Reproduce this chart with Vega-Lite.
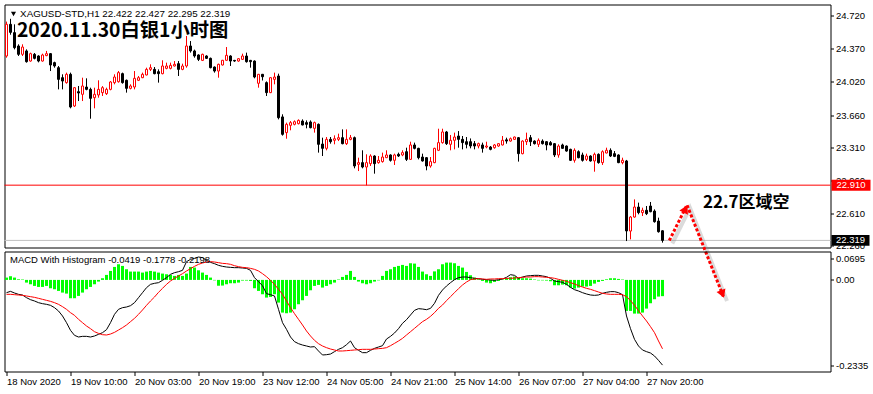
{
"$schema":"https://vega.github.io/schema/vega-lite/v6.json",
"background":"white",
"padding":{"left":3.5,"top":3.5,"right":0,"bottom":0},
"bounds":"flush",
"spacing":4,
"config":{"view":{"stroke":"#000000","strokeWidth":1},"axis":{"labelFont":"Liberation Sans","labelFontSize":9.5,"labelColor":"#000000","tickColor":"#000000","domain":false,"grid":false}},
"datasets":{
"bars":[
{"i":0,"o":24.292,"h":24.66,"l":24.274,"c":24.631,"m":-0.0329,"s":-0.0372,"hist":0.006},
{"i":1,"o":24.631,"h":24.69,"l":24.52,"c":24.545,"m":-0.0295,"s":-0.0372,"hist":0.0095},
{"i":2,"o":24.542,"h":24.631,"l":24.363,"c":24.381,"m":-0.0338,"s":-0.0381,"hist":0.006},
{"i":3,"o":24.399,"h":24.417,"l":24.292,"c":24.31,"m":-0.0372,"s":-0.039,"hist":0.0017},
{"i":4,"o":24.31,"h":24.417,"l":24.292,"c":24.388,"m":-0.039,"s":-0.0398,"hist":0.0012},
{"i":5,"o":24.346,"h":24.363,"l":24.221,"c":24.231,"m":-0.0458,"s":-0.0415,"hist":-0.0069},
{"i":6,"o":24.238,"h":24.328,"l":24.231,"c":24.317,"m":-0.051,"s":-0.0432,"hist":-0.0112},
{"i":7,"o":24.31,"h":24.324,"l":24.256,"c":24.267,"m":-0.0544,"s":-0.045,"hist":-0.0155},
{"i":8,"o":24.292,"h":24.3,"l":24.224,"c":24.238,"m":-0.0587,"s":-0.0475,"hist":-0.0181},
{"i":9,"o":24.238,"h":24.317,"l":24.232,"c":24.303,"m":-0.0613,"s":-0.0501,"hist":-0.0181},
{"i":10,"o":24.296,"h":24.346,"l":24.29,"c":24.317,"m":-0.063,"s":-0.0527,"hist":-0.0155},
{"i":11,"o":24.317,"h":24.324,"l":24.131,"c":24.196,"m":-0.0656,"s":-0.0553,"hist":-0.0215},
{"i":12,"o":24.221,"h":24.231,"l":24.167,"c":24.185,"m":-0.0716,"s":-0.0587,"hist":-0.0241},
{"i":13,"o":24.167,"h":24.185,"l":23.935,"c":24.042,"m":-0.0802,"s":-0.063,"hist":-0.0284},
{"i":14,"o":24.06,"h":24.096,"l":23.935,"c":24.024,"m":-0.0931,"s":-0.069,"hist":-0.0327},
{"i":15,"o":24.007,"h":24.114,"l":23.996,"c":24.096,"m":-0.1103,"s":-0.0759,"hist":-0.0353},
{"i":16,"o":24.096,"h":24.114,"l":23.732,"c":23.746,"m":-0.1301,"s":-0.0845,"hist":-0.0473},
{"i":17,"o":23.757,"h":23.96,"l":23.746,"c":23.953,"m":-0.143,"s":-0.0914,"hist":-0.0473},
{"i":18,"o":23.91,"h":23.971,"l":23.81,"c":23.896,"m":-0.1473,"s":-0.1017,"hist":-0.0413},
{"i":19,"o":23.882,"h":24.06,"l":23.81,"c":23.971,"m":-0.1456,"s":-0.1103,"hist":-0.0327},
{"i":20,"o":23.96,"h":24.053,"l":23.925,"c":23.935,"m":-0.1456,"s":-0.1189,"hist":-0.0241},
{"i":21,"o":23.935,"h":23.953,"l":23.621,"c":23.839,"m":-0.1473,"s":-0.1258,"hist":-0.0181},
{"i":22,"o":23.846,"h":23.953,"l":23.732,"c":23.882,"m":-0.1447,"s":-0.1336,"hist":-0.0112},
{"i":23,"o":23.875,"h":24.032,"l":23.846,"c":23.935,"m":-0.1404,"s":-0.1379,"hist":-0.0043},
{"i":24,"o":23.9,"h":23.97,"l":23.864,"c":23.953,"m":-0.1361,"s":-0.1413,"hist":0.0043},
{"i":25,"o":23.889,"h":23.953,"l":23.875,"c":23.935,"m":-0.1284,"s":-0.1421,"hist":0.0129},
{"i":26,"o":23.935,"h":24.024,"l":23.925,"c":24.014,"m":-0.1103,"s":-0.1396,"hist":0.0232},
{"i":27,"o":24.007,"h":24.096,"l":23.989,"c":24.067,"m":-0.0888,"s":-0.1353,"hist":0.0335},
{"i":28,"o":24.017,"h":24.131,"l":24.007,"c":24.114,"m":-0.0759,"s":-0.1293,"hist":0.0404},
{"i":29,"o":24.103,"h":24.114,"l":23.996,"c":24.007,"m":-0.0716,"s":-0.1232,"hist":0.0361},
{"i":30,"o":24.032,"h":24.04,"l":23.9,"c":23.946,"m":-0.0699,"s":-0.1163,"hist":0.0275},
{"i":31,"o":23.946,"h":23.989,"l":23.935,"c":23.971,"m":-0.0665,"s":-0.1077,"hist":0.0215},
{"i":32,"o":23.96,"h":24.131,"l":23.935,"c":24.053,"m":-0.0587,"s":-0.0991,"hist":0.0215},
{"i":33,"o":24.032,"h":24.078,"l":24.024,"c":24.06,"m":-0.0458,"s":-0.0888,"hist":0.0215},
{"i":34,"o":24.06,"h":24.114,"l":24.055,"c":24.096,"m":-0.0329,"s":-0.0776,"hist":0.0189},
{"i":35,"o":24.089,"h":24.167,"l":24.085,"c":24.149,"m":-0.02,"s":-0.0656,"hist":0.0215},
{"i":36,"o":24.149,"h":24.203,"l":24.131,"c":24.167,"m":-0.0114,"s":-0.0544,"hist":0.0232},
{"i":37,"o":24.149,"h":24.174,"l":24.096,"c":24.103,"m":-0.0088,"s":-0.0441,"hist":0.0215},
{"i":38,"o":24.124,"h":24.149,"l":24.007,"c":24.103,"m":-0.0071,"s":-0.0321,"hist":0.0189},
{"i":39,"o":24.103,"h":24.246,"l":24.096,"c":24.185,"m":-0.0011,"s":-0.0218,"hist":0.0163},
{"i":40,"o":24.16,"h":24.221,"l":24.15,"c":24.185,"m":0.0058,"s":-0.0114,"hist":0.0146},
{"i":41,"o":24.16,"h":24.221,"l":24.149,"c":24.192,"m":0.0144,"s":-0.0028,"hist":0.0129},
{"i":42,"o":24.185,"h":24.238,"l":24.18,"c":24.203,"m":0.0187,"s":0.0041,"hist":0.0103},
{"i":43,"o":24.21,"h":24.238,"l":24.078,"c":24.149,"m":0.0212,"s":0.0101,"hist":0.0129},
{"i":44,"o":24.149,"h":24.21,"l":24.14,"c":24.185,"m":0.0247,"s":0.0161,"hist":0.0103},
{"i":45,"o":24.185,"h":24.506,"l":24.167,"c":24.399,"m":0.047,"s":0.023,"hist":0.0163},
{"i":46,"o":24.399,"h":24.452,"l":24.328,"c":24.346,"m":0.0531,"s":0.029,"hist":0.0335},
{"i":47,"o":24.346,"h":24.36,"l":24.274,"c":24.292,"m":0.0556,"s":0.035,"hist":0.0318},
{"i":48,"o":24.303,"h":24.31,"l":24.238,"c":24.256,"m":0.0591,"s":0.0402,"hist":0.0249},
{"i":49,"o":24.245,"h":24.317,"l":24.238,"c":24.31,"m":0.0574,"s":0.0436,"hist":0.0189},
{"i":50,"o":24.292,"h":24.3,"l":24.26,"c":24.267,"m":0.0505,"s":0.0462,"hist":0.0129},
{"i":51,"o":24.267,"h":24.275,"l":24.16,"c":24.167,"m":0.0453,"s":0.0471,"hist":0.006},
{"i":52,"o":24.174,"h":24.18,"l":24.114,"c":24.131,"m":0.0419,"s":0.0462,"hist":-0.0012},
{"i":53,"o":24.131,"h":24.21,"l":24.06,"c":24.203,"m":0.0376,"s":0.0445,"hist":-0.015},
{"i":54,"o":24.196,"h":24.25,"l":24.19,"c":24.246,"m":0.035,"s":0.0427,"hist":-0.0146},
{"i":55,"o":24.246,"h":24.388,"l":24.24,"c":24.299,"m":0.0333,"s":0.0419,"hist":-0.0112},
{"i":56,"o":24.292,"h":24.3,"l":24.185,"c":24.238,"m":0.0324,"s":0.0402,"hist":-0.0086},
{"i":57,"o":24.245,"h":24.25,"l":24.23,"c":24.238,"m":0.0316,"s":0.0367,"hist":-0.0086},
{"i":58,"o":24.238,"h":24.27,"l":24.23,"c":24.263,"m":0.0316,"s":0.0342,"hist":-0.0069},
{"i":59,"o":24.256,"h":24.317,"l":24.25,"c":24.292,"m":0.0307,"s":0.0324,"hist":-0.0017},
{"i":60,"o":24.292,"h":24.328,"l":24.221,"c":24.231,"m":0.0298,"s":0.0316,"hist":-0.0017},
{"i":61,"o":24.245,"h":24.25,"l":24.167,"c":24.231,"m":0.0247,"s":0.0298,"hist":-0.0026},
{"i":62,"o":24.238,"h":24.245,"l":24.053,"c":24.067,"m":0.0058,"s":0.0273,"hist":-0.0215},
{"i":63,"o":24.0,"h":24.1,"l":23.953,"c":24.096,"m":-0.0046,"s":0.023,"hist":-0.0284},
{"i":64,"o":24.096,"h":24.1,"l":24.03,"c":24.07,"m":-0.0149,"s":0.0161,"hist":-0.037},
{"i":65,"o":24.007,"h":24.02,"l":23.864,"c":23.9,"m":-0.0355,"s":0.0083,"hist":-0.0456},
{"i":66,"o":23.9,"h":24.065,"l":23.895,"c":24.06,"m":-0.0381,"s":-0.0011,"hist":-0.0439},
{"i":67,"o":24.042,"h":24.114,"l":23.989,"c":24.067,"m":-0.0415,"s":-0.0114,"hist":-0.037},
{"i":68,"o":24.078,"h":24.103,"l":23.614,"c":23.632,"m":-0.0759,"s":-0.0243,"hist":-0.0585},
{"i":69,"o":23.64,"h":23.668,"l":23.44,"c":23.454,"m":-0.1103,"s":-0.0372,"hist":-0.0843},
{"i":70,"o":23.472,"h":23.579,"l":23.407,"c":23.561,"m":-0.1275,"s":-0.0544,"hist":-0.086},
{"i":71,"o":23.55,"h":23.596,"l":23.497,"c":23.579,"m":-0.1473,"s":-0.0716,"hist":-0.0843},
{"i":72,"o":23.561,"h":23.603,"l":23.55,"c":23.589,"m":-0.1593,"s":-0.0871,"hist":-0.0757},
{"i":73,"o":23.568,"h":23.614,"l":23.56,"c":23.603,"m":-0.1645,"s":-0.1017,"hist":-0.0628},
{"i":74,"o":23.596,"h":23.614,"l":23.55,"c":23.554,"m":-0.168,"s":-0.1163,"hist":-0.0525},
{"i":75,"o":23.579,"h":23.603,"l":23.518,"c":23.561,"m":-0.1705,"s":-0.1318,"hist":-0.0413},
{"i":76,"o":23.586,"h":23.603,"l":23.518,"c":23.525,"m":-0.1731,"s":-0.1447,"hist":-0.0267},
{"i":77,"o":23.518,"h":23.59,"l":23.472,"c":23.579,"m":-0.1722,"s":-0.1559,"hist":-0.0155},
{"i":78,"o":23.561,"h":23.57,"l":23.258,"c":23.347,"m":-0.1834,"s":-0.1645,"hist":-0.0129},
{"i":79,"o":23.35,"h":23.418,"l":23.222,"c":23.304,"m":-0.1937,"s":-0.1705,"hist":-0.0198},
{"i":80,"o":23.304,"h":23.425,"l":23.283,"c":23.4,"m":-0.1929,"s":-0.1748,"hist":-0.0155},
{"i":81,"o":23.4,"h":23.425,"l":23.354,"c":23.375,"m":-0.1912,"s":-0.1783,"hist":-0.0112},
{"i":82,"o":23.39,"h":23.443,"l":23.347,"c":23.407,"m":-0.1851,"s":-0.1808,"hist":-0.0069},
{"i":83,"o":23.4,"h":23.461,"l":23.382,"c":23.418,"m":-0.1791,"s":-0.1834,"hist":0.0012},
{"i":84,"o":23.418,"h":23.507,"l":23.347,"c":23.354,"m":-0.1748,"s":-0.1834,"hist":0.0077},
{"i":85,"o":23.354,"h":23.507,"l":23.34,"c":23.4,"m":-0.1671,"s":-0.1826,"hist":0.0129},
{"i":86,"o":23.4,"h":23.447,"l":23.39,"c":23.418,"m":-0.1576,"s":-0.1817,"hist":0.0232},
{"i":87,"o":23.418,"h":23.43,"l":23.09,"c":23.115,"m":-0.1748,"s":-0.1808,"hist":0.0077},
{"i":88,"o":23.133,"h":23.204,"l":23.061,"c":23.151,"m":-0.1817,"s":-0.18,"hist":-0.0043},
{"i":89,"o":23.151,"h":23.283,"l":23.09,"c":23.104,"m":-0.1877,"s":-0.1791,"hist":-0.0086},
{"i":90,"o":23.104,"h":23.24,"l":22.908,"c":23.151,"m":-0.1877,"s":-0.1791,"hist":-0.0112},
{"i":91,"o":23.14,"h":23.24,"l":23.115,"c":23.222,"m":-0.1817,"s":-0.1791,"hist":-0.0086},
{"i":92,"o":23.222,"h":23.23,"l":23.033,"c":23.14,"m":-0.1766,"s":-0.1783,"hist":-0.0043},
{"i":93,"o":23.151,"h":23.222,"l":23.14,"c":23.176,"m":-0.1731,"s":-0.1774,"hist":-0.0012},
{"i":94,"o":23.162,"h":23.258,"l":23.151,"c":23.211,"m":-0.1697,"s":-0.1766,"hist":0.0103},
{"i":95,"o":23.204,"h":23.283,"l":23.2,"c":23.233,"m":-0.1525,"s":-0.1748,"hist":0.0232},
{"i":96,"o":23.233,"h":23.24,"l":23.162,"c":23.176,"m":-0.1456,"s":-0.1697,"hist":0.0275},
{"i":97,"o":23.176,"h":23.247,"l":23.126,"c":23.233,"m":-0.137,"s":-0.1637,"hist":0.0335},
{"i":98,"o":23.24,"h":23.258,"l":23.211,"c":23.222,"m":-0.1258,"s":-0.1576,"hist":0.0361},
{"i":99,"o":23.233,"h":23.283,"l":23.22,"c":23.258,"m":-0.112,"s":-0.1508,"hist":0.0387},
{"i":100,"o":23.268,"h":23.311,"l":23.169,"c":23.186,"m":-0.1026,"s":-0.1421,"hist":0.0361},
{"i":101,"o":23.186,"h":23.375,"l":23.18,"c":23.34,"m":-0.0905,"s":-0.1336,"hist":0.043},
{"i":102,"o":23.34,"h":23.365,"l":23.293,"c":23.304,"m":-0.0785,"s":-0.125,"hist":0.0421},
{"i":103,"o":23.304,"h":23.31,"l":23.186,"c":23.204,"m":-0.0742,"s":-0.1163,"hist":0.0335},
{"i":104,"o":23.211,"h":23.247,"l":23.162,"c":23.169,"m":-0.0751,"s":-0.1077,"hist":0.0215},
{"i":105,"o":23.204,"h":23.21,"l":23.069,"c":23.115,"m":-0.0768,"s":-0.1017,"hist":0.0146},
{"i":106,"o":23.115,"h":23.211,"l":23.097,"c":23.162,"m":-0.0734,"s":-0.094,"hist":0.0103},
{"i":107,"o":23.151,"h":23.31,"l":23.145,"c":23.304,"m":-0.0604,"s":-0.0845,"hist":0.022},
{"i":108,"o":23.283,"h":23.514,"l":23.275,"c":23.365,"m":-0.0398,"s":-0.0733,"hist":0.0275},
{"i":109,"o":23.365,"h":23.514,"l":23.354,"c":23.479,"m":-0.026,"s":-0.0647,"hist":0.0404},
{"i":110,"o":23.479,"h":23.49,"l":23.34,"c":23.354,"m":-0.0157,"s":-0.0535,"hist":0.0447},
{"i":111,"o":23.347,"h":23.447,"l":23.283,"c":23.39,"m":-0.0071,"s":-0.0432,"hist":0.0447},
{"i":112,"o":23.39,"h":23.472,"l":23.293,"c":23.425,"m":0.0006,"s":-0.0329,"hist":0.043},
{"i":113,"o":23.436,"h":23.489,"l":23.311,"c":23.4,"m":0.0058,"s":-0.0226,"hist":0.0361},
{"i":114,"o":23.4,"h":23.436,"l":23.293,"c":23.365,"m":0.0075,"s":-0.0131,"hist":0.0318},
{"i":115,"o":23.375,"h":23.425,"l":23.304,"c":23.347,"m":0.0075,"s":-0.0054,"hist":0.0206},
{"i":116,"o":23.375,"h":23.41,"l":23.304,"c":23.329,"m":0.0058,"s":0.0006,"hist":0.012},
{"i":117,"o":23.354,"h":23.382,"l":23.293,"c":23.329,"m":0.0041,"s":0.0024,"hist":0.006},
{"i":118,"o":23.329,"h":23.365,"l":23.304,"c":23.354,"m":0.0032,"s":0.0032,"hist":0.0017},
{"i":119,"o":23.34,"h":23.365,"l":23.258,"c":23.304,"m":0.0015,"s":0.0024,"hist":-0.0026},
{"i":120,"o":23.318,"h":23.375,"l":23.304,"c":23.329,"m":0.0006,"s":0.0015,"hist":-0.0069},
{"i":121,"o":23.318,"h":23.329,"l":23.283,"c":23.293,"m":-0.0002,"s":0.0024,"hist":-0.0086},
{"i":122,"o":23.311,"h":23.35,"l":23.3,"c":23.34,"m":-0.0011,"s":0.0024,"hist":-0.0052},
{"i":123,"o":23.329,"h":23.36,"l":23.32,"c":23.354,"m":0.0006,"s":0.0032,"hist":-0.0026},
{"i":124,"o":23.34,"h":23.436,"l":23.335,"c":23.39,"m":0.0024,"s":0.0032,"hist":0.0012},
{"i":125,"o":23.395,"h":23.418,"l":23.354,"c":23.382,"m":0.0067,"s":0.0041,"hist":0.0043},
{"i":126,"o":23.382,"h":23.42,"l":23.375,"c":23.407,"m":0.0135,"s":0.0041,"hist":0.0069},
{"i":127,"o":23.4,"h":23.43,"l":23.395,"c":23.425,"m":0.0118,"s":0.0049,"hist":0.0086},
{"i":128,"o":23.418,"h":23.425,"l":23.162,"c":23.247,"m":0.0041,"s":0.0058,"hist":0.0052},
{"i":129,"o":23.247,"h":23.39,"l":23.24,"c":23.382,"m":0.0075,"s":0.0067,"hist":0.0043},
{"i":130,"o":23.375,"h":23.472,"l":23.34,"c":23.4,"m":0.0101,"s":0.0075,"hist":0.0043},
{"i":131,"o":23.418,"h":23.447,"l":23.329,"c":23.375,"m":0.011,"s":0.0075,"hist":0.0034},
{"i":132,"o":23.382,"h":23.39,"l":23.345,"c":23.354,"m":0.0118,"s":0.0084,"hist":0.0012},
{"i":133,"o":23.347,"h":23.41,"l":23.318,"c":23.39,"m":0.0118,"s":0.0084,"hist":-0.0012},
{"i":134,"o":23.382,"h":23.4,"l":23.345,"c":23.354,"m":0.0101,"s":0.0075,"hist":-0.0012},
{"i":135,"o":23.375,"h":23.38,"l":23.283,"c":23.34,"m":0.0084,"s":0.0067,"hist":-0.0017},
{"i":136,"o":23.365,"h":23.382,"l":23.335,"c":23.34,"m":0.0041,"s":0.0058,"hist":-0.0034},
{"i":137,"o":23.354,"h":23.36,"l":23.211,"c":23.233,"m":-0.0028,"s":0.0041,"hist":-0.0138},
{"i":138,"o":23.233,"h":23.347,"l":23.204,"c":23.329,"m":-0.0045,"s":0.0015,"hist":-0.0138},
{"i":139,"o":23.34,"h":23.354,"l":23.3,"c":23.304,"m":-0.0062,"s":-0.0011,"hist":-0.012},
{"i":140,"o":23.329,"h":23.335,"l":23.268,"c":23.275,"m":-0.0114,"s":-0.0037,"hist":-0.0138},
{"i":141,"o":23.293,"h":23.3,"l":23.169,"c":23.176,"m":-0.0191,"s":-0.0071,"hist":-0.0198},
{"i":142,"o":23.176,"h":23.304,"l":23.151,"c":23.283,"m":-0.0252,"s":-0.0105,"hist":-0.0224},
{"i":143,"o":23.268,"h":23.283,"l":23.197,"c":23.204,"m":-0.0286,"s":-0.0148,"hist":-0.0198},
{"i":144,"o":23.233,"h":23.258,"l":23.162,"c":23.176,"m":-0.0329,"s":-0.0183,"hist":-0.0172},
{"i":145,"o":23.186,"h":23.247,"l":23.169,"c":23.222,"m":-0.0363,"s":-0.0217,"hist":-0.0172},
{"i":146,"o":23.222,"h":23.23,"l":23.162,"c":23.169,"m":-0.0389,"s":-0.0243,"hist":-0.0155},
{"i":147,"o":23.169,"h":23.258,"l":23.054,"c":23.24,"m":-0.0398,"s":-0.0277,"hist":-0.0095},
{"i":148,"o":23.24,"h":23.25,"l":23.14,"c":23.151,"m":-0.0389,"s":-0.0312,"hist":-0.0052},
{"i":149,"o":23.151,"h":23.283,"l":23.126,"c":23.268,"m":-0.0346,"s":-0.0346,"hist":-0.0026},
{"i":150,"o":23.254,"h":23.311,"l":23.25,"c":23.283,"m":-0.032,"s":-0.0363,"hist":0.0017},
{"i":151,"o":23.283,"h":23.304,"l":23.211,"c":23.222,"m":-0.0303,"s":-0.0372,"hist":0.0043},
{"i":152,"o":23.247,"h":23.275,"l":23.21,"c":23.218,"m":-0.0303,"s":-0.0372,"hist":0.0043},
{"i":153,"o":23.233,"h":23.24,"l":23.145,"c":23.151,"m":-0.0329,"s":-0.0372,"hist":0.0026},
{"i":154,"o":23.151,"h":23.204,"l":23.133,"c":23.176,"m":-0.0381,"s":-0.0381,"hist":0.0012},
{"i":155,"o":23.169,"h":23.18,"l":22.312,"c":22.42,"m":-0.0931,"s":-0.0432,"hist":-0.08},
{"i":156,"o":22.419,"h":22.58,"l":22.33,"c":22.569,"m":-0.1258,"s":-0.0535,"hist":-0.08},
{"i":157,"o":22.569,"h":22.758,"l":22.562,"c":22.676,"m":-0.1533,"s":-0.0655,"hist":-0.0869},
{"i":158,"o":22.676,"h":22.723,"l":22.598,"c":22.616,"m":-0.1705,"s":-0.0793,"hist":-0.0869},
{"i":159,"o":22.616,"h":22.669,"l":22.58,"c":22.641,"m":-0.1808,"s":-0.0931,"hist":-0.0843},
{"i":160,"o":22.641,"h":22.687,"l":22.59,"c":22.605,"m":-0.1851,"s":-0.106,"hist":-0.074},
{"i":161,"o":22.687,"h":22.73,"l":22.62,"c":22.626,"m":-0.1886,"s":-0.1206,"hist":-0.0602},
{"i":162,"o":22.633,"h":22.651,"l":22.509,"c":22.519,"m":-0.1963,"s":-0.1361,"hist":-0.0499},
{"i":163,"o":22.526,"h":22.562,"l":22.402,"c":22.412,"m":-0.2075,"s":-0.1576,"hist":-0.043},
{"i":164,"o":22.422,"h":22.427,"l":22.295,"c":22.319,"m":-0.2198,"s":-0.1778,"hist":-0.0419}
],
"arrow":[{"i":165.7,"p":22.318},{"i":170.125,"p":22.698},{"i":179.375,"p":21.7025}]
},
"vconcat":[
{
"width":826,"height":243,
"resolve":{"axis":{"x":"independent","y":"independent"}},
"layer":[
{"data":{"values":[{"p":22.319}]},"mark":{"type":"rule","color":"#c0c0c0","strokeWidth":1},
 "encoding":{"y":{"field":"p","type":"quantitative","scale":{"domain":[22.243,24.843],"nice":false,"zero":false},"axis":null,"title":null}}},
{"data":{"values":[{"p":22.91}]},"mark":{"type":"rule","color":"#ff0000","strokeWidth":1},
 "encoding":{"y":{"field":"p","type":"quantitative","scale":{"domain":[22.243,24.843],"nice":false,"zero":false},"axis":null,"title":null}}},
{"data":{"name":"bars"},"mark":{"type":"rule","strokeWidth":1},
 "encoding":{
  "x":{"field":"i","type":"quantitative","scale":{"domain":[-0.5,206],"nice":false,"zero":false,"padding":0},"axis":null,"title":null},
  "y":{"field":"l","type":"quantitative","scale":{"domain":[22.243,24.843],"nice":false,"zero":false},"title":null,
       "axis":{"orient":"right","values":[24.72,24.37,24.02,23.66,23.31,22.96,22.61,22.26],"format":".3f","tickSize":3,"labelPadding":2,"title":null,"labelBaseline":"middle","labelFlush":false,"labelOverlap":false,"labelBound":false}},
  "y2":{"field":"h"},
  "color":{"condition":{"test":"datum.c >= datum.o","value":"#ff0000"},"value":"#000000"}}},
{"data":{"name":"bars"},"mark":{"type":"bar","width":2,"strokeWidth":1},
 "encoding":{
  "x":{"field":"i","type":"quantitative","scale":{"domain":[-0.5,206],"nice":false,"zero":false,"padding":0},"axis":null,"title":null},
  "y":{"field":"o","type":"quantitative","scale":{"domain":[22.243,24.843],"nice":false,"zero":false},"axis":null,"title":null},
  "y2":{"field":"c"},
  "fill":{"condition":{"test":"datum.c >= datum.o","value":"#ffffff"},"value":"#000000"},
  "stroke":{"condition":{"test":"datum.c >= datum.o","value":"#ff0000"},"value":"#000000"}}},
{"data":{"values":[{"i":2.6,"p":24.4953,"t":"2020.11.30白银1小时图"}]},
 "mark":{"type":"text","font":"Noto Sans CJK SC","fontWeight":"bold","fontSize":19.3,"color":"#000000","align":"left","baseline":"alphabetic"},
 "encoding":{
  "x":{"field":"i","type":"quantitative","scale":{"domain":[-0.5,206],"nice":false,"zero":false,"padding":0},"axis":null,"title":null},
  "y":{"field":"p","type":"quantitative","scale":{"domain":[22.243,24.843],"nice":false,"zero":false},"axis":null,"title":null},
  "text":{"field":"t"}}},
{"data":{"values":[{"i":3.4,"p":24.745,"t":"XAGUSD-STD,H1  22.422 22.427 22.295 22.319"}]},
 "mark":{"type":"text","font":"Liberation Sans","fontSize":9.8,"color":"#000000","align":"left","baseline":"middle"},
 "encoding":{
  "x":{"field":"i","type":"quantitative","scale":{"domain":[-0.5,206],"nice":false,"zero":false,"padding":0},"axis":null,"title":null},
  "y":{"field":"p","type":"quantitative","scale":{"domain":[22.243,24.843],"nice":false,"zero":false},"axis":null,"title":null},
  "text":{"field":"t"}}},
{"data":{"values":[{"i":1.75,"p":24.741}]},
 "mark":{"type":"point","shape":"triangle-down","size":26,"filled":true,"color":"#000000","opacity":1},
 "encoding":{
  "x":{"field":"i","type":"quantitative","scale":{"domain":[-0.5,206],"nice":false,"zero":false,"padding":0},"axis":null,"title":null},
  "y":{"field":"p","type":"quantitative","scale":{"domain":[22.243,24.843],"nice":false,"zero":false},"axis":null,"title":null}}},
{"data":{"values":[{"i":174.125,"p":22.724,"t":"22.7区域空"}]},
 "mark":{"type":"text","font":"Noto Sans CJK SC","fontWeight":"bold","fontSize":17,"color":"#000000","align":"left","baseline":"middle"},
 "encoding":{
  "x":{"field":"i","type":"quantitative","scale":{"domain":[-0.5,206],"nice":false,"zero":false,"padding":0},"axis":null,"title":null},
  "y":{"field":"p","type":"quantitative","scale":{"domain":[22.243,24.843],"nice":false,"zero":false},"axis":null,"title":null},
  "text":{"field":"t"}}},
{"data":{"name":"arrow"},
 "mark":{"type":"line","color":"#888888","opacity":0.3,"strokeWidth":4,"xOffset":3,"yOffset":3},
 "encoding":{
  "x":{"field":"i","type":"quantitative","scale":{"domain":[-0.5,206],"nice":false,"zero":false,"padding":0},"axis":null,"title":null},
  "y":{"field":"p","type":"quantitative","scale":{"domain":[22.243,24.843],"nice":false,"zero":false},"axis":null,"title":null}}},
{"data":{"name":"arrow"},
 "mark":{"type":"line","color":"#ff0000","strokeWidth":3,"strokeDash":[3,2]},
 "encoding":{
  "x":{"field":"i","type":"quantitative","scale":{"domain":[-0.5,206],"nice":false,"zero":false,"padding":0},"axis":null,"title":null},
  "y":{"field":"p","type":"quantitative","scale":{"domain":[22.243,24.843],"nice":false,"zero":false},"axis":null,"title":null}}},
{"data":{"values":[{"i":169.75,"p":22.655}]},
 "mark":{"type":"point","shape":"triangle-up","size":90,"angle":26.5,"filled":true,"color":"#ff0000","opacity":1},
 "encoding":{
  "x":{"field":"i","type":"quantitative","scale":{"domain":[-0.5,206],"nice":false,"zero":false,"padding":0},"axis":null,"title":null},
  "y":{"field":"p","type":"quantitative","scale":{"domain":[22.243,24.843],"nice":false,"zero":false},"axis":null,"title":null}}},
{"data":{"values":[{"i":179.0,"p":21.745}]},
 "mark":{"type":"point","shape":"triangle-up","size":90,"angle":158.3,"filled":true,"color":"#ff0000","opacity":1},
 "encoding":{
  "x":{"field":"i","type":"quantitative","scale":{"domain":[-0.5,206],"nice":false,"zero":false,"padding":0},"axis":null,"title":null},
  "y":{"field":"p","type":"quantitative","scale":{"domain":[22.243,24.843],"nice":false,"zero":false},"axis":null,"title":null}}},
{"data":{"values":[{"p":22.91,"t":"22.910"}]},
 "mark":{"type":"point","shape":"M-1,-0.282H1V0.282H-1Z","size":1521,"filled":true,"color":"#ff0000","opacity":1,"xOffset":20.5},
 "encoding":{"x":{"value":"width"},
  "y":{"field":"p","type":"quantitative","scale":{"domain":[22.243,24.843],"nice":false,"zero":false},"axis":null,"title":null}}},
{"data":{"values":[{"p":22.91,"t":"22.910"}]},
 "mark":{"type":"text","font":"Liberation Sans","fontSize":9.5,"color":"#ffffff","align":"center","baseline":"middle","xOffset":20.5},
 "encoding":{"x":{"value":"width"},
  "y":{"field":"p","type":"quantitative","scale":{"domain":[22.243,24.843],"nice":false,"zero":false},"axis":null,"title":null},
  "text":{"field":"t"}}},
{"data":{"values":[{"p":22.319,"t":"22.319"}]},
 "mark":{"type":"point","shape":"M-1,-0.282H1V0.282H-1Z","size":1444,"filled":true,"color":"#000000","opacity":1,"xOffset":20},
 "encoding":{"x":{"value":"width"},
  "y":{"field":"p","type":"quantitative","scale":{"domain":[22.243,24.843],"nice":false,"zero":false},"axis":null,"title":null}}},
{"data":{"values":[{"p":22.319,"t":"22.319"}]},
 "mark":{"type":"text","font":"Liberation Sans","fontSize":9.5,"color":"#ffffff","align":"center","baseline":"middle","xOffset":20},
 "encoding":{"x":{"value":"width"},
  "y":{"field":"p","type":"quantitative","scale":{"domain":[22.243,24.843],"nice":false,"zero":false},"axis":null,"title":null},
  "text":{"field":"t"}}}
]
},
{
"width":826,"height":120,
"resolve":{"axis":{"x":"independent","y":"independent"}},
"layer":[
{"data":{"name":"bars"},"mark":{"type":"bar","width":3,"color":"#00ff00"},
 "encoding":{
  "x":{"field":"i","type":"quantitative","scale":{"domain":[-0.5,206],"nice":false,"zero":false,"padding":0},"title":null,
       "axis":{"orient":"bottom","values":[0,16,32,48,64,80,96,112,128,144,160],
               "labelExpr":"['18 Nov 2020','19 Nov 10:00','20 Nov 03:00','20 Nov 19:00','23 Nov 12:00','24 Nov 05:00','24 Nov 21:00','25 Nov 14:00','26 Nov 07:00','27 Nov 04:00','27 Nov 20:00'][round(datum.value/16)]",
               "labelAlign":"left","labelBaseline":"top","labelAngle":0,"labelOffset":0,"labelPadding":1,"tickSize":4,"labelFlush":false,"labelOverlap":false,"labelBound":false,"title":null}},
  "y":{"field":"hist","type":"quantitative","scale":{"domain":[-0.2363,0.0733],"nice":false,"zero":false},"title":null,
       "axis":{"orient":"right","values":[0.0558,0,-0.2221],"labelExpr":"datum.value > 0.01 ? '0.0695' : (datum.value < -0.1 ? '-0.2335' : '0.00')","tickSize":3,"labelPadding":2,"title":null,"labelBaseline":"middle","labelFlush":false,"labelOverlap":false,"labelBound":false}},
  "y2":{"datum":0}}},
{"data":{"name":"bars"},"mark":{"type":"line","color":"#000000","strokeWidth":1},
 "encoding":{
  "x":{"field":"i","type":"quantitative","scale":{"domain":[-0.5,206],"nice":false,"zero":false,"padding":0},"axis":null,"title":null},
  "y":{"field":"m","type":"quantitative","scale":{"domain":[-0.2363,0.0733],"nice":false,"zero":false},"axis":null,"title":null}}},
{"data":{"name":"bars"},"mark":{"type":"line","color":"#ff0000","strokeWidth":1},
 "encoding":{
  "x":{"field":"i","type":"quantitative","scale":{"domain":[-0.5,206],"nice":false,"zero":false,"padding":0},"axis":null,"title":null},
  "y":{"field":"s","type":"quantitative","scale":{"domain":[-0.2363,0.0733],"nice":false,"zero":false},"axis":null,"title":null}}},
{"data":{"values":[{"i":0.875,"p":0.0514,"t":"MACD With Histogram -0.0419 -0.1778 -0.2198"}]},
 "mark":{"type":"text","font":"Liberation Sans","fontSize":9.5,"color":"#000000","align":"left","baseline":"middle"},
 "encoding":{
  "x":{"field":"i","type":"quantitative","scale":{"domain":[-0.5,206],"nice":false,"zero":false,"padding":0},"axis":null,"title":null},
  "y":{"field":"p","type":"quantitative","scale":{"domain":[-0.2363,0.0733],"nice":false,"zero":false},"axis":null,"title":null},
  "text":{"field":"t"}}}
]
}
]
}
